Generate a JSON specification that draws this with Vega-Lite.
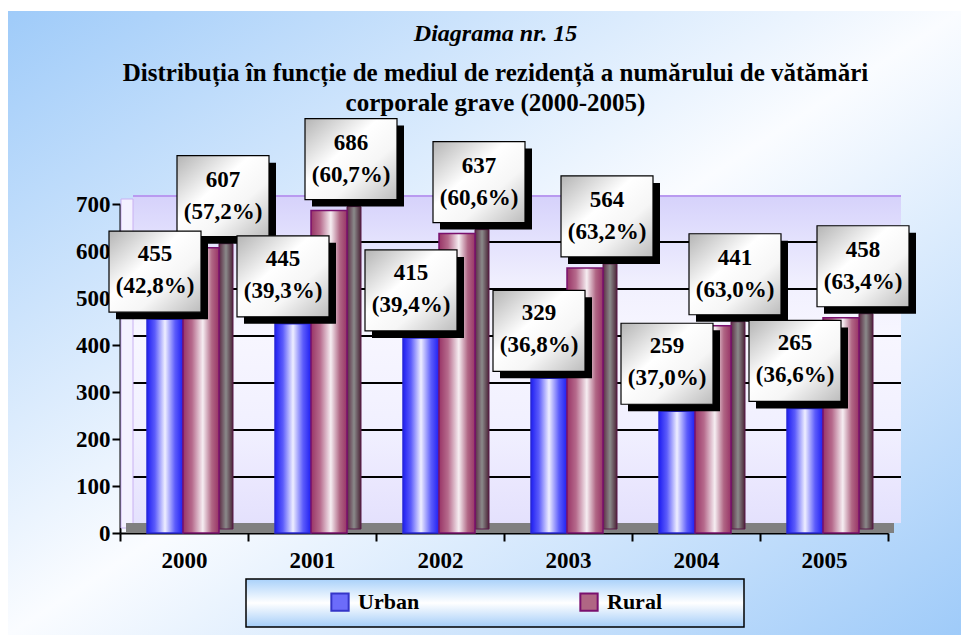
{
  "$schema": "https://vega.github.io/schema/vega-lite/v6.json",
  "width": 953,
  "height": 624,
  "padding": {"left": 8, "top": 11, "right": 0, "bottom": 2},
  "autosize": {"type": "none"},
  "background": "white",
  "view": {
    "stroke": null,
    "fill": {"gradient": "linear", "x1": 0, "y1": 0, "x2": 1, "y2": 1,
      "stops": [{"offset": 0, "color": "#9fcbf9"}, {"offset": 0.5, "color": "#fafcff"}, {"offset": 1, "color": "#9fcbf9"}]}
  },
  "title": {
    "text": "Diagrama nr. 15",
    "subtitle": ["Distribuția în funcție de mediul de rezidență a numărului de vătămări", "corporale grave (2000-2005)"],
    "anchor": "middle",
    "frame": "group",
    "offset": -105,
    "dx": 11,
    "font": "Liberation Serif",
    "fontSize": 24,
    "fontStyle": "italic",
    "fontWeight": "bold",
    "color": "black",
    "subtitleFont": "Liberation Serif",
    "subtitleFontSize": 25,
    "subtitleFontWeight": "bold",
    "subtitleColor": "black",
    "subtitleLineHeight": 30,
    "subtitlePadding": 15
  },
  "data": {
    "values": [
      {"year": "2000", "series": "Urban", "value": 455, "share": 42.8},
      {"year": "2000", "series": "Rural", "value": 607, "share": 57.2},
      {"year": "2001", "series": "Urban", "value": 445, "share": 39.3},
      {"year": "2001", "series": "Rural", "value": 686, "share": 60.7},
      {"year": "2002", "series": "Urban", "value": 415, "share": 39.4},
      {"year": "2002", "series": "Rural", "value": 637, "share": 60.6},
      {"year": "2003", "series": "Urban", "value": 329, "share": 36.8},
      {"year": "2003", "series": "Rural", "value": 564, "share": 63.2},
      {"year": "2004", "series": "Urban", "value": 259, "share": 37.0},
      {"year": "2004", "series": "Rural", "value": 441, "share": 63.0},
      {"year": "2005", "series": "Urban", "value": 265, "share": 36.6},
      {"year": "2005", "series": "Rural", "value": 458, "share": 63.4}
    ]
  },
  "encoding": {
    "x": {
      "field": "year", "type": "nominal",
      "scale": {"domain": ["2000", "2001", "2002", "2003", "2004", "2005"], "range": [112, 880], "paddingInner": 0, "paddingOuter": 0},
      "axis": {
        "title": null, "orient": "bottom", "offset": -102, "tickBand": "extent", "labelAngle": 0, "grid": false,
        "domainColor": "black", "domainWidth": 2, "tickColor": "black", "tickWidth": 2, "tickSize": 8,
        "labelFont": "Liberation Serif", "labelFontSize": 23, "labelFontWeight": "bold", "labelColor": "black", "labelPadding": 8
      }
    },
    "y": {
      "field": "value", "type": "quantitative",
      "scale": {"domain": [0, 700], "range": [522, 193], "nice": false},
      "axis": {
        "title": null, "offset": -112, "values": [0, 100, 200, 300, 400, 500, 600, 700], "grid": false,
        "domainColor": "black", "domainWidth": 2, "tickColor": "black", "tickWidth": 2, "tickSize": 8,
        "labelFont": "Liberation Serif", "labelFontSize": 23, "labelFontWeight": "bold", "labelColor": "black", "labelPadding": 2
      }
    }
  },
  "layer": [
    {
      "transform": [{"filter": "datum.series === 'Urban'"}],
      "mark": {"type": "bar", "width": {"band": 1}, "xOffset": 13, "yOffset": -9, "y2Offset": -10,
        "fill": {"gradient": "linear", "x1": 0, "y1": 0, "x2": 0, "y2": 1,
          "stops": [
            {"offset": 0, "color": "#b99af0"}, {"offset": 0.005, "color": "#b99af0"}, {"offset": 0.006, "color": "#d6d2fb"},
            {"offset": 0.1408, "color": "#e4e2fd"}, {"offset": 0.1409, "color": "#000000"}, {"offset": 0.1457, "color": "#000000"}, {"offset": 0.1458, "color": "#e4e2fd"},
            {"offset": 0.2841, "color": "#f2f1fe"}, {"offset": 0.2842, "color": "#000000"}, {"offset": 0.2890, "color": "#000000"}, {"offset": 0.2891, "color": "#f2f1fe"},
            {"offset": 0.4274, "color": "#f7f6ff"}, {"offset": 0.4275, "color": "#000000"}, {"offset": 0.4323, "color": "#000000"}, {"offset": 0.4324, "color": "#f7f6ff"},
            {"offset": 0.5707, "color": "#f4f3ff"}, {"offset": 0.5708, "color": "#000000"}, {"offset": 0.5756, "color": "#000000"}, {"offset": 0.5757, "color": "#f4f3ff"},
            {"offset": 0.7140, "color": "#f1f0ff"}, {"offset": 0.7141, "color": "#000000"}, {"offset": 0.7189, "color": "#000000"}, {"offset": 0.7190, "color": "#f1f0ff"},
            {"offset": 0.8573, "color": "#ebe8fe"}, {"offset": 0.8574, "color": "#000000"}, {"offset": 0.8622, "color": "#000000"}, {"offset": 0.8623, "color": "#ebe8fe"},
            {"offset": 1, "color": "#e4e1fd"}
          ]}},
      "encoding": {"y": {"datum": 700}, "y2": {"datum": 0}}
    },
    {
      "transform": [{"filter": "datum.series === 'Urban' && datum.year === '2000'"}],
      "mark": {"type": "bar", "width": 12, "xOffset": -57, "yOffset": -5, "y2Offset": -5, "fill": "#f3f1ff", "stroke": "#c9b0f2", "strokeWidth": 1},
      "encoding": {"y": {"datum": 700}, "y2": {"datum": 0}}
    },
    {
      "transform": [{"filter": "datum.series === 'Urban'"}],
      "mark": {"type": "bar", "width": {"band": 1}, "fill": "#808080", "xOffset": 6, "y2Offset": -10},
      "encoding": {"y": {"datum": 0}, "y2": {"datum": 0}}
    },
    {
      "transform": [{"filter": "datum.series === 'Rural'"}],
      "mark": {"type": "bar", "width": 14, "xOffset": 42, "yOffset": -4, "y2Offset": -4, "stroke": "#5a1a4a", "strokeWidth": 1,
        "fill": {"gradient": "linear", "x1": 0, "y1": 0, "x2": 1, "y2": 0,
          "stops": [{"offset": 0, "color": "#5c2a44"}, {"offset": 0.5, "color": "#8a8a8a"}, {"offset": 1, "color": "#4a2236"}]}}
    },
    {
      "transform": [{"filter": "datum.series === 'Urban'"}],
      "mark": {"type": "bar", "width": 36, "xOffset": -19, "stroke": "#2a2ad8", "strokeWidth": 1.5,
        "fill": {"gradient": "linear", "x1": 0, "y1": 0, "x2": 1, "y2": 0,
          "stops": [{"offset": 0, "color": "#1f1ff2"}, {"offset": 0.22, "color": "#5c5cfb"}, {"offset": 0.5, "color": "#eeeeff"}, {"offset": 0.78, "color": "#5c5cfb"}, {"offset": 1, "color": "#1f1ff2"}]}}
    },
    {
      "transform": [{"filter": "datum.series === 'Rural'"}],
      "mark": {"type": "bar", "width": 36, "xOffset": 17, "stroke": "#7a106e", "strokeWidth": 1.5,
        "fill": {"gradient": "linear", "x1": 0, "y1": 0, "x2": 1, "y2": 0,
          "stops": [{"offset": 0, "color": "#983466"}, {"offset": 0.25, "color": "#b66a8c"}, {"offset": 0.55, "color": "#f6eef2"}, {"offset": 0.8, "color": "#b06684"}, {"offset": 1, "color": "#983466"}]}}
    },
    {
      "mark": {"type": "point", "filled": true, "opacity": 0, "size": 1},
      "encoding": {
        "color": {
          "field": "series", "type": "nominal",
          "scale": {"domain": ["Urban", "Rural"], "range": ["#6c6cfa", "#b06684"]},
          "legend": {
            "orient": "none", "legendX": 238, "legendY": 568, "direction": "horizontal",
            "title": "\u2003", "titleOrient": "right", "titleFont": "Liberation Serif", "titleFontSize": 22, "titlePadding": 70,
            "symbolType": "square", "symbolSize": 300, "symbolStrokeWidth": 2, "symbolOpacity": 1, "symbolOffset": 71,
            "labelFont": "Liberation Serif", "labelFontSize": 22, "labelFontWeight": "bold", "labelColor": "black", "labelOffset": 7,
            "columnPadding": 87, "padding": 12, "strokeColor": "black", "fillColor": "#d8ebfd",
            "encode": {
              "legend": {"update": {"strokeWidth": {"value": 1.5},
                "fill": {"value": {"gradient": "linear", "x1": 0, "y1": 0, "x2": 0, "y2": 1,
                  "stops": [{"offset": 0, "color": "#a9d1fa"}, {"offset": 0.5, "color": "#ffffff"}, {"offset": 1, "color": "#a4cdf8"}]}}}},
              "symbols": {"update": {
                "stroke": {"signal": "datum.value === 'Urban' ? '#3535c8' : '#7a106e'"},
                "strokeWidth": {"value": 2},
                "opacity": {"value": 1}
              }}
            }
          }
        }
      }
    },
    {
      "transform": [{"filter": "datum.series === 'Rural'"}],
      "mark": {"type": "point", "shape": "M0,-85H92V-4H0Z", "size": 4, "filled": true, "fill": "black", "opacity": 1}
    },
    {
      "transform": [{"filter": "datum.series === 'Rural'"}],
      "mark": {"type": "point", "shape": "M-7,-92H85V-11H-7Z", "size": 4, "filled": true, "opacity": 1, "stroke": "black", "strokeWidth": 1.2,
        "fill": {"gradient": "linear", "x1": 0, "y1": 0, "x2": 1, "y2": 1,
          "stops": [{"offset": 0, "color": "#b4b4b4"}, {"offset": 0.4, "color": "#ffffff"}, {"offset": 0.65, "color": "#f6f6f6"}, {"offset": 1, "color": "#bcbcbc"}]}}
    },
    {
      "transform": [{"filter": "datum.series === 'Rural'"}],
      "mark": {"type": "text", "dx": 39, "dy": -68, "lineHeight": 32, "baseline": "middle", "align": "center",
        "font": "Liberation Serif", "fontSize": 23, "fontWeight": "bold", "fill": "black",
        "text": {"expr": "[format(datum.value, 'd'), '(' + replace(format(datum.share, '.1f'), '.', ',') + '%)']"}}
    },
    {
      "transform": [{"filter": "datum.series === 'Urban'"}],
      "mark": {"type": "point", "shape": "M-68,-81H24V0H-68Z", "size": 4, "filled": true, "fill": "black", "opacity": 1}
    },
    {
      "transform": [{"filter": "datum.series === 'Urban'"}],
      "mark": {"type": "point", "shape": "M-75,-88H17V-7H-75Z", "size": 4, "filled": true, "opacity": 1, "stroke": "black", "strokeWidth": 1.2,
        "fill": {"gradient": "linear", "x1": 0, "y1": 0, "x2": 1, "y2": 1,
          "stops": [{"offset": 0, "color": "#b4b4b4"}, {"offset": 0.4, "color": "#ffffff"}, {"offset": 0.65, "color": "#f6f6f6"}, {"offset": 1, "color": "#bcbcbc"}]}}
    },
    {
      "transform": [{"filter": "datum.series === 'Urban'"}],
      "mark": {"type": "text", "dx": -29, "dy": -65, "lineHeight": 32, "baseline": "middle", "align": "center",
        "font": "Liberation Serif", "fontSize": 23, "fontWeight": "bold", "fill": "black",
        "text": {"expr": "[format(datum.value, 'd'), '(' + replace(format(datum.share, '.1f'), '.', ',') + '%)']"}}
    }
  ]
}
